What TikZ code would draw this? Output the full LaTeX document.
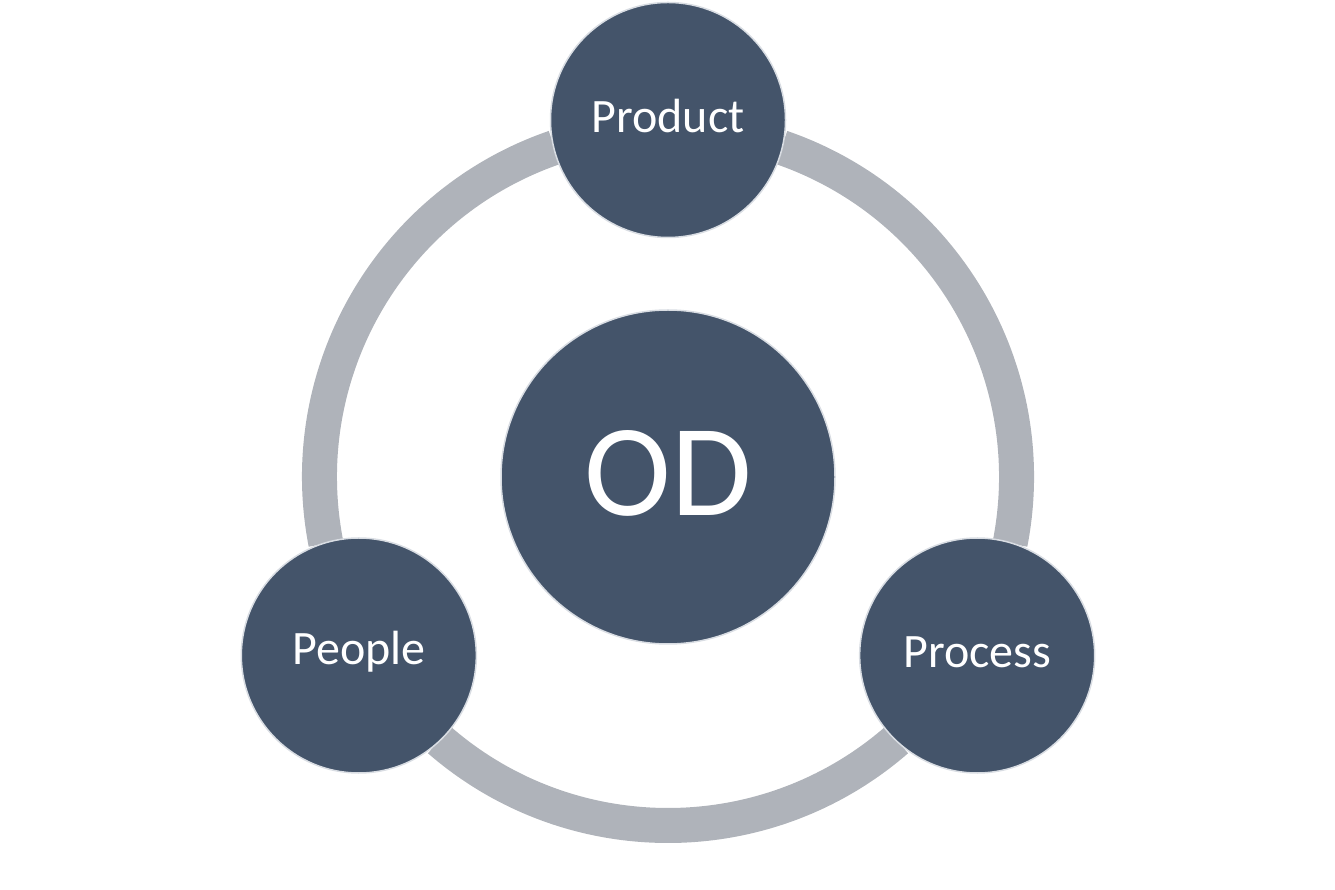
\documentclass[tikz,border=0pt]{standalone}
\usepackage{fontspec}
\setmainfont{Carlito}
\usetikzlibrary{calc}
\definecolor{discfill}{HTML}{44546A}
\definecolor{ringcol}{HTML}{AFB3BA}
\definecolor{discedge}{HTML}{D9DDE3}
\newcommand{\upby}[1]{\raisebox{3.5pt}[\height][\depth]{#1}}
\begin{document}
\begin{tikzpicture}[x=1pt,y=1pt,
  disc/.style={circle,fill=discfill,draw=discedge,line width=1.5pt,inner sep=0pt,text=white},
  smalltext/.style={font=\fontsize{48}{48}\selectfont},
  ringarc/.style={draw=ringcol,line width=35pt,line cap=butt}]
\useasboundingbox (0,0) rectangle (1335,889);
\coordinate (c) at (668,412);
% ring arcs
\draw[ringarc] ($(c)+(109:348.5)$) arc[start angle=109,end angle=191,radius=348.5];
\draw[ringarc] ($(c)+(229:348.5)$) arc[start angle=229,end angle=311,radius=348.5];
\draw[ringarc] ($(c)+(349:348.5)$) arc[start angle=349,end angle=431,radius=348.5];
% discs
\node[disc,minimum size=334pt,font=\fontsize{131}{131}\selectfont] (od) at (c) {\upby{OD}};
\node[disc,minimum size=235pt,smalltext] (product) at ($(c)+(90:357)$) {\upby{Product}};
\node[disc,minimum size=235pt,smalltext] (people) at ($(c)+(210:357)$) {\upby{People}};
\node[disc,minimum size=235pt,smalltext] (process) at ($(c)+(330:357)$) {\upby{Process}};
\end{tikzpicture}
\end{document}
